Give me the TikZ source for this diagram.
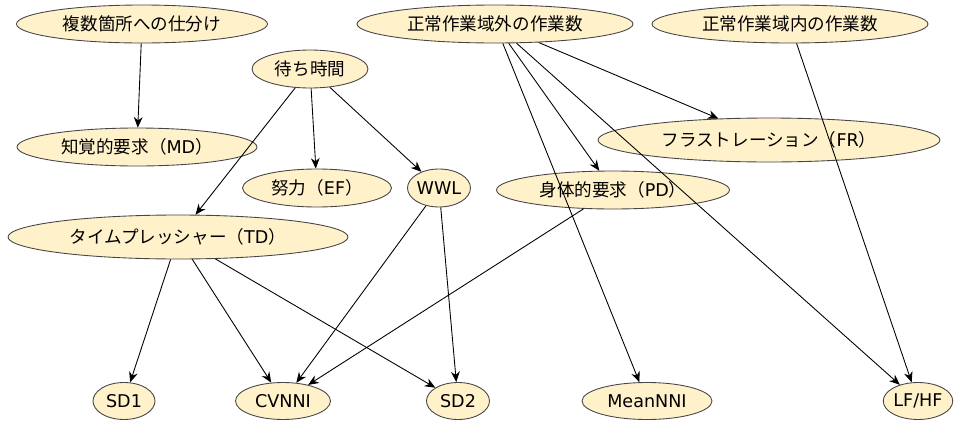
\documentclass[tikz,border=0pt]{standalone}
\usepackage{fontspec}
\setmainfont{DejaVu Sans}
\newfontfamily\jp{Noto Sans CJK JP}
\usetikzlibrary{shapes.geometric,arrows.meta}
\definecolor{varfill}{RGB}{255,241,202}
\definecolor{varline}{RGB}{70,70,70}

\begin{document}
\begin{tikzpicture}[x=0.02cm,y=-0.02cm]
	\tikzstyle{var} = [ellipse, draw=varline, fill=varfill, line width=0.5pt, inner sep=0pt, minimum height=0.76cm, font=\fontsize{10}{12}\selectfont]
	\tikzstyle{edge} = [draw=black, line width=0.5pt, -{Stealth[length=6pt,width=5pt]}]
	\useasboundingbox (0,0) rectangle (965,423);
		\node[var, minimum width=5.02cm] (sort)  at (142,24)  {\jp 複数箇所への仕分け};
		\node[var, minimum width=5.52cm] (outer) at (495,24)  {\jp 正常作業域外の作業数};
		\node[var, minimum width=5.52cm] (inner) at (790,24)  {\jp 正常作業域内の作業数};
		\node[var, minimum width=2.32cm] (wait)  at (310,69)  {\jp 待ち時間};
		\node[var, minimum width=4.80cm] (md)    at (137,147) {{\jp 知覚的要求（}MD{\jp ）}};
		\node[var, minimum width=6.84cm, minimum height=0.88cm] (fr) at (769,140) {{\jp フラストレーション（}FR{\jp ）}};
		\node[var, minimum width=2.98cm] (ef)    at (317,188) {{\jp 努力（}EF{\jp ）}};
		\node[var, minimum width=1.24cm] (wwl)   at (439,188) {WWL};
		\node[var, minimum width=4.66cm] (pd)    at (613,190) {{\jp 身体的要求（}PD{\jp ）}};
		\node[var, minimum width=6.80cm, minimum height=0.88cm] (td) at (178,237) {{\jp タイムプレッシャー（}TD{\jp ）}};
		\node[var, minimum width=1.24cm, minimum height=0.74cm] (sd1)   at (124,401) {SD1};
		\node[var, minimum width=1.90cm, minimum height=0.74cm] (cvnni) at (283,401) {CVNNI};
		\node[var, minimum width=1.26cm, minimum height=0.74cm] (sd2)   at (458,401) {SD2};
		\node[var, minimum width=2.60cm, minimum height=0.74cm] (mean)  at (647,401) {MeanNNI};
		\node[var, minimum width=1.26cm, minimum height=0.74cm] (lfhf)  at (918,401) {LF/HF};
	\draw[edge] (sort) -- (md);
	\draw[edge] (wait) -- (td);
	\draw[edge] (wait) -- (ef);
	\draw[edge] (wait) -- (wwl);
	\draw[edge] (outer) -- (fr);
	\draw[edge] (outer) -- (pd);
	\draw[edge] (outer) -- (mean);
	\draw[edge] (outer) -- (lfhf);
	\draw[edge] (inner) -- (lfhf);
	\draw[edge] (td) -- (sd1);
	\draw[edge] (td) -- (cvnni);
	\draw[edge] (td) -- (sd2);
	\draw[edge] (wwl) -- (cvnni);
	\draw[edge] (wwl) -- (sd2);
	\draw[edge] (pd) -- (cvnni);
	\end{tikzpicture}
\end{document}
